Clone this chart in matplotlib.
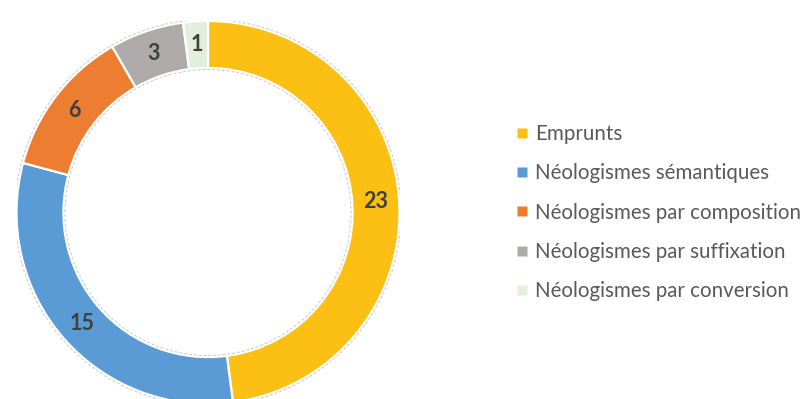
import matplotlib
matplotlib.use("Agg")
import matplotlib.pyplot as plt
from matplotlib.lines import Line2D
from matplotlib.patches import Circle
import numpy as np

categories = ["Emprunts", "Néologismes sémantiques", "Néologismes par composition",
              "Néologismes par suffixation", "Néologismes par conversion"]
counts = [23, 15, 6, 3, 1]
colors = ["#FCBF14", "#5B9BD5", "#ED7D31", "#AEAAAA", "#E2EFDA"]

W, H = 807, 399
fig = plt.figure(figsize=(W / 100, H / 100), dpi=100)

# ring centre and radius in pixels
cx, cy, r = 208, H - 212.5, 191.5
ax = fig.add_axes([(cx - r) / W, (cy - r) / H, 2 * r / W, 2 * r / H])
ring = 0.245

wedges, _ = ax.pie(counts, colors=colors, startangle=90, counterclock=False,
                   radius=1, wedgeprops=dict(width=ring, edgecolor="white", linewidth=1.6))

# faint dashed outline around the ring
for rad in (1.008, 1 - ring - 0.008):
    ax.add_patch(Circle((0, 0), rad, fill=False, ec="#C8C8C8", lw=0.7, ls=(0, (3, 2))))

# value labels in the middle of each segment
total = sum(counts)
start = 90.0
mid_r = 1 - ring / 2
for v in counts:
    span = 360.0 * v / total
    ang = np.deg2rad(start - span / 2)
    ax.text(mid_r * np.cos(ang), mid_r * np.sin(ang), str(v), ha="center", va="center",
            fontsize=15.5, fontweight="bold", color="#404040", family="Lato")
    start -= span

ax.set_xlim(-1, 1)
ax.set_ylim(-1, 1)
ax.set_aspect("equal")
ax.axis("off")

handles = [Line2D([], [], marker="s", ls="", markersize=7, markerfacecolor=c,
                  markeredgecolor="none") for c in colors]
leg = fig.legend(handles, categories, loc="upper left",
                 bbox_to_anchor=(516 / W, 1 - 124 / H), frameon=False,
                 prop=dict(family="Lato", size=14.8), labelcolor="#595959",
                 handlelength=0.6, handletextpad=0.33, labelspacing=0.94,
                 borderpad=0, borderaxespad=0)

fig.savefig("out.png", dpi=100, facecolor="white")
